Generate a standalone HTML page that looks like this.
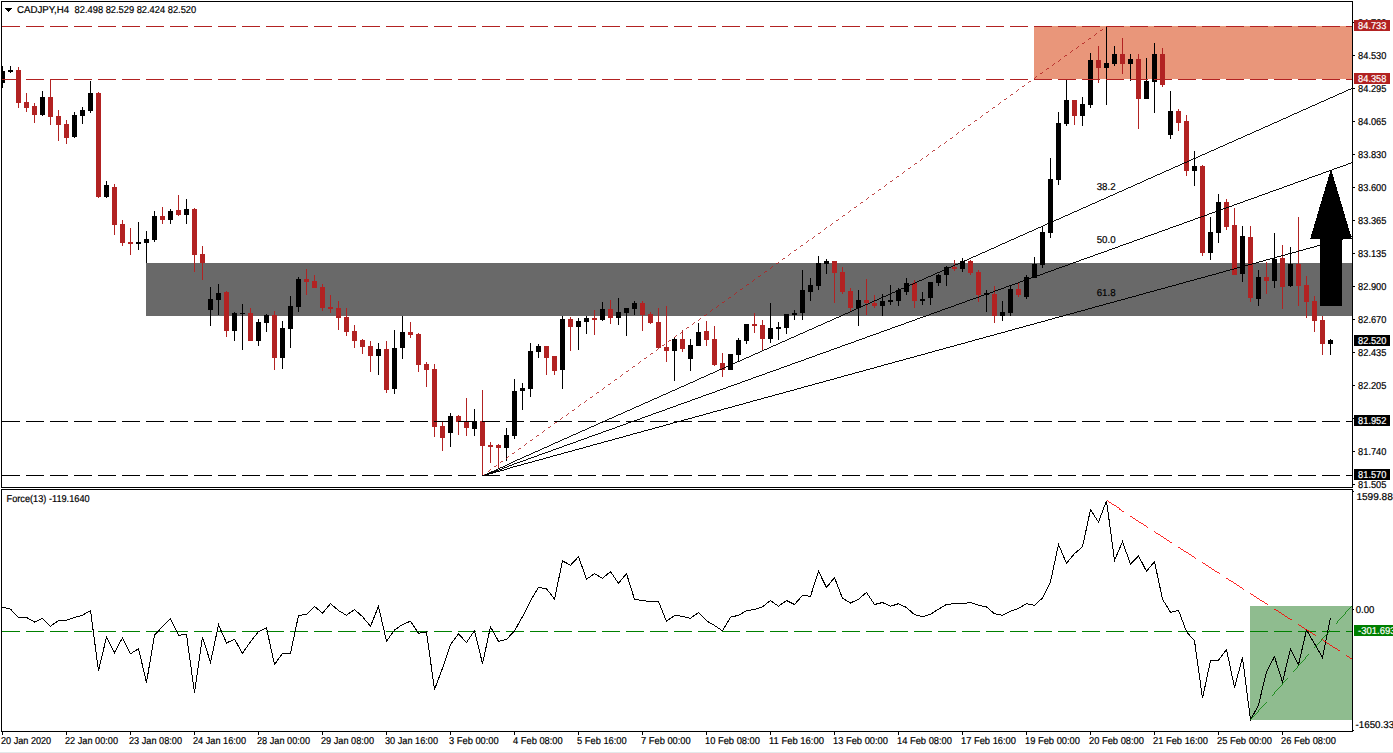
<!DOCTYPE html>
<html><head><meta charset="utf-8"><title>CADJPY,H4</title>
<style>
html,body{margin:0;padding:0;background:#fff;}
body{width:1393px;height:753px;overflow:hidden;}
svg{display:block;}
text{font-family:"Liberation Sans",sans-serif;font-size:10px;fill:#000;stroke:#000;stroke-width:0.2px;text-rendering:geometricPrecision;}
.w{fill:#fff;stroke:#fff;}
</style></head><body>
<svg width="1393" height="753" viewBox="0 0 1393 753">
<rect x="0" y="0" width="1393" height="753" fill="#fff"/>
<rect x="0" y="752" width="1393" height="1" fill="#e3e9ea"/>
<defs><clipPath id="cm"><rect x="2" y="2" width="1350" height="485"/></clipPath><clipPath id="ci"><rect x="2" y="490" width="1350" height="241"/></clipPath></defs>
<g shape-rendering="crispEdges">
<rect x="146" y="263" width="1206" height="53" fill="#696969"/>
<rect x="1034" y="26" width="318" height="53" fill="#e9967a"/>
<rect x="1250" y="606" width="102" height="114" fill="#8fbc8f"/>
</g>
<g shape-rendering="crispEdges" clip-path="url(#cm)">
<rect x="2" y="66" width="1" height="22" fill="#000"/><rect x="0" y="71" width="5" height="12" fill="#000"/>
<rect x="10" y="66" width="1" height="7" fill="#000"/><rect x="8" y="70" width="5" height="2" fill="#000"/>
<rect x="18" y="67" width="1" height="41" fill="#b22222"/><rect x="16" y="70" width="5" height="33" fill="#b22222"/>
<rect x="26" y="93" width="1" height="19" fill="#b22222"/><rect x="24" y="102" width="5" height="6" fill="#b22222"/>
<rect x="34" y="103" width="1" height="20" fill="#b22222"/><rect x="32" y="106" width="5" height="9" fill="#b22222"/>
<rect x="42" y="91" width="1" height="25" fill="#000"/><rect x="40" y="97" width="5" height="18" fill="#000"/>
<rect x="50" y="79" width="1" height="46" fill="#b22222"/><rect x="48" y="97" width="5" height="20" fill="#b22222"/>
<rect x="58" y="110" width="1" height="31" fill="#b22222"/><rect x="56" y="116" width="5" height="9" fill="#b22222"/>
<rect x="66" y="120" width="1" height="24" fill="#b22222"/><rect x="64" y="124" width="5" height="14" fill="#b22222"/>
<rect x="74" y="112" width="1" height="26" fill="#000"/><rect x="72" y="115" width="5" height="22" fill="#000"/>
<rect x="82" y="107" width="1" height="17" fill="#000"/><rect x="80" y="110" width="5" height="6" fill="#000"/>
<rect x="90" y="81" width="1" height="32" fill="#000"/><rect x="88" y="93" width="5" height="18" fill="#000"/>
<rect x="98" y="92" width="1" height="106" fill="#b22222"/><rect x="96" y="93" width="5" height="104" fill="#b22222"/>
<rect x="106" y="181" width="1" height="17" fill="#000"/><rect x="104" y="185" width="5" height="12" fill="#000"/>
<rect x="114" y="184" width="1" height="51" fill="#b22222"/><rect x="112" y="187" width="5" height="38" fill="#b22222"/>
<rect x="122" y="220" width="1" height="26" fill="#b22222"/><rect x="120" y="224" width="5" height="19" fill="#b22222"/>
<rect x="130" y="228" width="1" height="27" fill="#b22222"/><rect x="128" y="242" width="5" height="2" fill="#b22222"/>
<rect x="138" y="222" width="1" height="28" fill="#000"/><rect x="136" y="242" width="5" height="2" fill="#000"/>
<rect x="146" y="231" width="1" height="32" fill="#000"/><rect x="144" y="239" width="5" height="4" fill="#000"/>
<rect x="154" y="211" width="1" height="31" fill="#000"/><rect x="152" y="216" width="5" height="24" fill="#000"/>
<rect x="162" y="207" width="1" height="17" fill="#b22222"/><rect x="160" y="216" width="5" height="4" fill="#b22222"/>
<rect x="170" y="209" width="1" height="15" fill="#000"/><rect x="168" y="211" width="5" height="9" fill="#000"/>
<rect x="178" y="195" width="1" height="21" fill="#b22222"/><rect x="176" y="210" width="5" height="5" fill="#b22222"/>
<rect x="186" y="199" width="1" height="25" fill="#000"/><rect x="184" y="209" width="5" height="6" fill="#000"/>
<rect x="194" y="208" width="1" height="64" fill="#b22222"/><rect x="192" y="209" width="5" height="46" fill="#b22222"/>
<rect x="202" y="246" width="1" height="34" fill="#b22222"/><rect x="200" y="254" width="5" height="9" fill="#b22222"/>
<rect x="210" y="287" width="1" height="39" fill="#000"/><rect x="208" y="299" width="5" height="11" fill="#000"/>
<rect x="218" y="284" width="1" height="31" fill="#000"/><rect x="216" y="293" width="5" height="7" fill="#000"/>
<rect x="226" y="291" width="1" height="46" fill="#b22222"/><rect x="224" y="292" width="5" height="39" fill="#b22222"/>
<rect x="234" y="312" width="1" height="29" fill="#000"/><rect x="232" y="313" width="5" height="18" fill="#000"/>
<rect x="242" y="304" width="1" height="46" fill="#000"/><rect x="240" y="313" width="5" height="1" fill="#000"/>
<rect x="250" y="308" width="1" height="33" fill="#b22222"/><rect x="248" y="313" width="5" height="28" fill="#b22222"/>
<rect x="258" y="319" width="1" height="27" fill="#000"/><rect x="256" y="322" width="5" height="19" fill="#000"/>
<rect x="266" y="314" width="1" height="18" fill="#000"/><rect x="264" y="315" width="5" height="8" fill="#000"/>
<rect x="274" y="311" width="1" height="59" fill="#b22222"/><rect x="272" y="315" width="5" height="43" fill="#b22222"/>
<rect x="282" y="321" width="1" height="48" fill="#000"/><rect x="280" y="328" width="5" height="30" fill="#000"/>
<rect x="290" y="296" width="1" height="52" fill="#000"/><rect x="288" y="306" width="5" height="23" fill="#000"/>
<rect x="298" y="277" width="1" height="35" fill="#000"/><rect x="296" y="279" width="5" height="28" fill="#000"/>
<rect x="306" y="269" width="1" height="26" fill="#b22222"/><rect x="304" y="279" width="5" height="3" fill="#b22222"/>
<rect x="314" y="275" width="1" height="13" fill="#b22222"/><rect x="312" y="281" width="5" height="7" fill="#b22222"/>
<rect x="322" y="284" width="1" height="27" fill="#b22222"/><rect x="320" y="287" width="5" height="21" fill="#b22222"/>
<rect x="330" y="295" width="1" height="18" fill="#b22222"/><rect x="328" y="307" width="5" height="2" fill="#b22222"/>
<rect x="338" y="301" width="1" height="29" fill="#b22222"/><rect x="336" y="308" width="5" height="10" fill="#b22222"/>
<rect x="346" y="308" width="1" height="28" fill="#b22222"/><rect x="344" y="317" width="5" height="15" fill="#b22222"/>
<rect x="354" y="325" width="1" height="23" fill="#b22222"/><rect x="352" y="331" width="5" height="10" fill="#b22222"/>
<rect x="362" y="339" width="1" height="15" fill="#b22222"/><rect x="360" y="340" width="5" height="7" fill="#b22222"/>
<rect x="370" y="341" width="1" height="31" fill="#b22222"/><rect x="368" y="346" width="5" height="10" fill="#b22222"/>
<rect x="378" y="343" width="1" height="32" fill="#000"/><rect x="376" y="349" width="5" height="7" fill="#000"/>
<rect x="386" y="341" width="1" height="52" fill="#b22222"/><rect x="384" y="349" width="5" height="41" fill="#b22222"/>
<rect x="394" y="330" width="1" height="64" fill="#000"/><rect x="392" y="348" width="5" height="41" fill="#000"/>
<rect x="402" y="316" width="1" height="43" fill="#000"/><rect x="400" y="332" width="5" height="16" fill="#000"/>
<rect x="410" y="322" width="1" height="16" fill="#b22222"/><rect x="408" y="332" width="5" height="3" fill="#b22222"/>
<rect x="418" y="333" width="1" height="39" fill="#b22222"/><rect x="416" y="334" width="5" height="31" fill="#b22222"/>
<rect x="426" y="362" width="1" height="25" fill="#b22222"/><rect x="424" y="364" width="5" height="6" fill="#b22222"/>
<rect x="434" y="364" width="1" height="73" fill="#b22222"/><rect x="432" y="369" width="5" height="58" fill="#b22222"/>
<rect x="442" y="422" width="1" height="29" fill="#b22222"/><rect x="440" y="426" width="5" height="12" fill="#b22222"/>
<rect x="450" y="413" width="1" height="34" fill="#000"/><rect x="448" y="416" width="5" height="17" fill="#000"/>
<rect x="458" y="415" width="1" height="20" fill="#b22222"/><rect x="456" y="416" width="5" height="6" fill="#b22222"/>
<rect x="466" y="398" width="1" height="38" fill="#b22222"/><rect x="464" y="422" width="5" height="6" fill="#b22222"/>
<rect x="474" y="409" width="1" height="27" fill="#000"/><rect x="472" y="421" width="5" height="8" fill="#000"/>
<rect x="482" y="390" width="1" height="86" fill="#b22222"/><rect x="480" y="421" width="5" height="25" fill="#b22222"/>
<rect x="490" y="442" width="1" height="21" fill="#b22222"/><rect x="488" y="445" width="5" height="2" fill="#b22222"/>
<rect x="498" y="444" width="1" height="24" fill="#b22222"/><rect x="496" y="445" width="5" height="3" fill="#b22222"/>
<rect x="506" y="428" width="1" height="33" fill="#000"/><rect x="504" y="435" width="5" height="13" fill="#000"/>
<rect x="514" y="379" width="1" height="60" fill="#000"/><rect x="512" y="391" width="5" height="45" fill="#000"/>
<rect x="522" y="383" width="1" height="27" fill="#000"/><rect x="520" y="388" width="5" height="3" fill="#000"/>
<rect x="530" y="343" width="1" height="54" fill="#000"/><rect x="528" y="351" width="5" height="38" fill="#000"/>
<rect x="538" y="344" width="1" height="14" fill="#000"/><rect x="536" y="346" width="5" height="6" fill="#000"/>
<rect x="546" y="346" width="1" height="29" fill="#b22222"/><rect x="544" y="346" width="5" height="12" fill="#b22222"/>
<rect x="554" y="356" width="1" height="19" fill="#b22222"/><rect x="552" y="356" width="5" height="15" fill="#b22222"/>
<rect x="562" y="316" width="1" height="73" fill="#000"/><rect x="560" y="319" width="5" height="51" fill="#000"/>
<rect x="570" y="317" width="1" height="34" fill="#b22222"/><rect x="568" y="319" width="5" height="8" fill="#b22222"/>
<rect x="578" y="318" width="1" height="32" fill="#000"/><rect x="576" y="321" width="5" height="6" fill="#000"/>
<rect x="586" y="316" width="1" height="18" fill="#000"/><rect x="584" y="318" width="5" height="4" fill="#000"/>
<rect x="594" y="310" width="1" height="25" fill="#b22222"/><rect x="592" y="318" width="5" height="2" fill="#b22222"/>
<rect x="602" y="302" width="1" height="19" fill="#000"/><rect x="600" y="309" width="5" height="11" fill="#000"/>
<rect x="610" y="300" width="1" height="24" fill="#b22222"/><rect x="608" y="309" width="5" height="9" fill="#b22222"/>
<rect x="618" y="298" width="1" height="27" fill="#000"/><rect x="616" y="312" width="5" height="6" fill="#000"/>
<rect x="626" y="308" width="1" height="28" fill="#000"/><rect x="624" y="308" width="5" height="5" fill="#000"/>
<rect x="634" y="301" width="1" height="14" fill="#000"/><rect x="632" y="303" width="5" height="6" fill="#000"/>
<rect x="642" y="301" width="1" height="30" fill="#b22222"/><rect x="640" y="303" width="5" height="12" fill="#b22222"/>
<rect x="650" y="312" width="1" height="12" fill="#b22222"/><rect x="648" y="314" width="5" height="9" fill="#b22222"/>
<rect x="658" y="308" width="1" height="40" fill="#b22222"/><rect x="656" y="322" width="5" height="26" fill="#b22222"/>
<rect x="666" y="306" width="1" height="56" fill="#b22222"/><rect x="664" y="347" width="5" height="4" fill="#b22222"/>
<rect x="674" y="337" width="1" height="44" fill="#000"/><rect x="672" y="339" width="5" height="12" fill="#000"/>
<rect x="682" y="330" width="1" height="22" fill="#b22222"/><rect x="680" y="339" width="5" height="10" fill="#b22222"/>
<rect x="690" y="339" width="1" height="32" fill="#000"/><rect x="688" y="345" width="5" height="14" fill="#000"/>
<rect x="698" y="323" width="1" height="23" fill="#000"/><rect x="696" y="332" width="5" height="14" fill="#000"/>
<rect x="706" y="321" width="1" height="25" fill="#b22222"/><rect x="704" y="331" width="5" height="9" fill="#b22222"/>
<rect x="714" y="326" width="1" height="40" fill="#b22222"/><rect x="712" y="339" width="5" height="26" fill="#b22222"/>
<rect x="722" y="353" width="1" height="24" fill="#b22222"/><rect x="720" y="363" width="5" height="7" fill="#b22222"/>
<rect x="730" y="354" width="1" height="16" fill="#000"/><rect x="728" y="354" width="5" height="16" fill="#000"/>
<rect x="738" y="338" width="1" height="23" fill="#000"/><rect x="736" y="340" width="5" height="15" fill="#000"/>
<rect x="746" y="324" width="1" height="20" fill="#000"/><rect x="744" y="324" width="5" height="17" fill="#000"/>
<rect x="754" y="313" width="1" height="20" fill="#b22222"/><rect x="752" y="324" width="5" height="2" fill="#b22222"/>
<rect x="762" y="320" width="1" height="30" fill="#b22222"/><rect x="760" y="325" width="5" height="14" fill="#b22222"/>
<rect x="770" y="303" width="1" height="40" fill="#000"/><rect x="768" y="328" width="5" height="11" fill="#000"/>
<rect x="778" y="322" width="1" height="18" fill="#000"/><rect x="776" y="327" width="5" height="2" fill="#000"/>
<rect x="786" y="314" width="1" height="20" fill="#000"/><rect x="784" y="314" width="5" height="14" fill="#000"/>
<rect x="794" y="310" width="1" height="10" fill="#000"/><rect x="792" y="313" width="5" height="2" fill="#000"/>
<rect x="802" y="270" width="1" height="50" fill="#000"/><rect x="800" y="290" width="5" height="23" fill="#000"/>
<rect x="810" y="278" width="1" height="23" fill="#000"/><rect x="808" y="285" width="5" height="7" fill="#000"/>
<rect x="818" y="256" width="1" height="34" fill="#000"/><rect x="816" y="263" width="5" height="23" fill="#000"/>
<rect x="826" y="259" width="1" height="15" fill="#000"/><rect x="824" y="261" width="5" height="3" fill="#000"/>
<rect x="834" y="261" width="1" height="42" fill="#b22222"/><rect x="832" y="261" width="5" height="12" fill="#b22222"/>
<rect x="842" y="267" width="1" height="27" fill="#b22222"/><rect x="840" y="272" width="5" height="20" fill="#b22222"/>
<rect x="850" y="288" width="1" height="23" fill="#b22222"/><rect x="848" y="291" width="5" height="17" fill="#b22222"/>
<rect x="858" y="290" width="1" height="36" fill="#000"/><rect x="856" y="300" width="5" height="8" fill="#000"/>
<rect x="866" y="279" width="1" height="36" fill="#b22222"/><rect x="864" y="300" width="5" height="3" fill="#b22222"/>
<rect x="874" y="295" width="1" height="13" fill="#b22222"/><rect x="872" y="303" width="5" height="3" fill="#b22222"/>
<rect x="882" y="294" width="1" height="22" fill="#000"/><rect x="880" y="301" width="5" height="5" fill="#000"/>
<rect x="890" y="285" width="1" height="20" fill="#000"/><rect x="888" y="300" width="5" height="2" fill="#000"/>
<rect x="898" y="288" width="1" height="18" fill="#000"/><rect x="896" y="290" width="5" height="11" fill="#000"/>
<rect x="906" y="278" width="1" height="17" fill="#000"/><rect x="904" y="283" width="5" height="9" fill="#000"/>
<rect x="914" y="280" width="1" height="28" fill="#b22222"/><rect x="912" y="283" width="5" height="18" fill="#b22222"/>
<rect x="922" y="292" width="1" height="13" fill="#000"/><rect x="920" y="299" width="5" height="2" fill="#000"/>
<rect x="930" y="282" width="1" height="23" fill="#000"/><rect x="928" y="282" width="5" height="16" fill="#000"/>
<rect x="938" y="274" width="1" height="12" fill="#000"/><rect x="936" y="275" width="5" height="8" fill="#000"/>
<rect x="946" y="266" width="1" height="20" fill="#000"/><rect x="944" y="267" width="5" height="8" fill="#000"/>
<rect x="954" y="260" width="1" height="11" fill="#b22222"/><rect x="952" y="267" width="5" height="2" fill="#b22222"/>
<rect x="962" y="258" width="1" height="14" fill="#000"/><rect x="960" y="261" width="5" height="8" fill="#000"/>
<rect x="970" y="260" width="1" height="15" fill="#b22222"/><rect x="968" y="261" width="5" height="12" fill="#b22222"/>
<rect x="978" y="270" width="1" height="32" fill="#b22222"/><rect x="976" y="272" width="5" height="23" fill="#b22222"/>
<rect x="986" y="290" width="1" height="22" fill="#000"/><rect x="984" y="293" width="5" height="2" fill="#000"/>
<rect x="994" y="286" width="1" height="37" fill="#b22222"/><rect x="992" y="294" width="5" height="22" fill="#b22222"/>
<rect x="1002" y="301" width="1" height="20" fill="#000"/><rect x="1000" y="312" width="5" height="4" fill="#000"/>
<rect x="1010" y="285" width="1" height="31" fill="#000"/><rect x="1008" y="289" width="5" height="24" fill="#000"/>
<rect x="1018" y="283" width="1" height="14" fill="#b22222"/><rect x="1016" y="289" width="5" height="6" fill="#b22222"/>
<rect x="1026" y="275" width="1" height="24" fill="#000"/><rect x="1024" y="277" width="5" height="20" fill="#000"/>
<rect x="1034" y="257" width="1" height="21" fill="#000"/><rect x="1032" y="264" width="5" height="14" fill="#000"/>
<rect x="1042" y="226" width="1" height="42" fill="#000"/><rect x="1040" y="232" width="5" height="33" fill="#000"/>
<rect x="1050" y="158" width="1" height="80" fill="#000"/><rect x="1048" y="179" width="5" height="54" fill="#000"/>
<rect x="1058" y="112" width="1" height="73" fill="#000"/><rect x="1056" y="123" width="5" height="57" fill="#000"/>
<rect x="1066" y="80" width="1" height="46" fill="#000"/><rect x="1064" y="100" width="5" height="24" fill="#000"/>
<rect x="1074" y="100" width="1" height="25" fill="#b22222"/><rect x="1072" y="100" width="5" height="16" fill="#b22222"/>
<rect x="1082" y="97" width="1" height="29" fill="#000"/><rect x="1080" y="104" width="5" height="12" fill="#000"/>
<rect x="1090" y="53" width="1" height="55" fill="#000"/><rect x="1088" y="60" width="5" height="45" fill="#000"/>
<rect x="1098" y="46" width="1" height="37" fill="#b22222"/><rect x="1096" y="60" width="5" height="8" fill="#b22222"/>
<rect x="1106" y="26" width="1" height="79" fill="#000"/><rect x="1104" y="63" width="5" height="5" fill="#000"/>
<rect x="1114" y="46" width="1" height="20" fill="#000"/><rect x="1112" y="54" width="5" height="10" fill="#000"/>
<rect x="1122" y="38" width="1" height="36" fill="#b22222"/><rect x="1120" y="54" width="5" height="10" fill="#b22222"/>
<rect x="1130" y="54" width="1" height="27" fill="#000"/><rect x="1128" y="59" width="5" height="5" fill="#000"/>
<rect x="1138" y="54" width="1" height="75" fill="#b22222"/><rect x="1136" y="59" width="5" height="40" fill="#b22222"/>
<rect x="1146" y="58" width="1" height="41" fill="#000"/><rect x="1144" y="81" width="5" height="18" fill="#000"/>
<rect x="1154" y="43" width="1" height="70" fill="#000"/><rect x="1152" y="54" width="5" height="28" fill="#000"/>
<rect x="1162" y="48" width="1" height="39" fill="#b22222"/><rect x="1160" y="54" width="5" height="31" fill="#b22222"/>
<rect x="1170" y="91" width="1" height="48" fill="#000"/><rect x="1168" y="111" width="5" height="24" fill="#000"/>
<rect x="1178" y="109" width="1" height="22" fill="#b22222"/><rect x="1176" y="111" width="5" height="12" fill="#b22222"/>
<rect x="1186" y="115" width="1" height="61" fill="#b22222"/><rect x="1184" y="121" width="5" height="50" fill="#b22222"/>
<rect x="1194" y="151" width="1" height="35" fill="#000"/><rect x="1192" y="166" width="5" height="5" fill="#000"/>
<rect x="1202" y="165" width="1" height="91" fill="#b22222"/><rect x="1200" y="166" width="5" height="87" fill="#b22222"/>
<rect x="1210" y="217" width="1" height="43" fill="#000"/><rect x="1208" y="232" width="5" height="21" fill="#000"/>
<rect x="1218" y="194" width="1" height="49" fill="#000"/><rect x="1216" y="202" width="5" height="31" fill="#000"/>
<rect x="1226" y="199" width="1" height="31" fill="#b22222"/><rect x="1224" y="202" width="5" height="25" fill="#b22222"/>
<rect x="1234" y="208" width="1" height="67" fill="#b22222"/><rect x="1232" y="225" width="5" height="50" fill="#b22222"/>
<rect x="1242" y="226" width="1" height="56" fill="#000"/><rect x="1240" y="236" width="5" height="38" fill="#000"/>
<rect x="1250" y="226" width="1" height="76" fill="#b22222"/><rect x="1248" y="237" width="5" height="61" fill="#b22222"/>
<rect x="1258" y="270" width="1" height="36" fill="#000"/><rect x="1256" y="277" width="5" height="22" fill="#000"/>
<rect x="1266" y="262" width="1" height="32" fill="#b22222"/><rect x="1264" y="277" width="5" height="4" fill="#b22222"/>
<rect x="1274" y="233" width="1" height="55" fill="#000"/><rect x="1272" y="259" width="5" height="22" fill="#000"/>
<rect x="1282" y="245" width="1" height="64" fill="#b22222"/><rect x="1280" y="258" width="5" height="29" fill="#b22222"/>
<rect x="1290" y="247" width="1" height="40" fill="#000"/><rect x="1288" y="264" width="5" height="22" fill="#000"/>
<rect x="1298" y="217" width="1" height="89" fill="#b22222"/><rect x="1296" y="264" width="5" height="22" fill="#b22222"/>
<rect x="1306" y="276" width="1" height="42" fill="#b22222"/><rect x="1304" y="285" width="5" height="17" fill="#b22222"/>
<rect x="1314" y="296" width="1" height="36" fill="#b22222"/><rect x="1312" y="301" width="5" height="20" fill="#b22222"/>
<rect x="1322" y="316" width="1" height="39" fill="#b22222"/><rect x="1320" y="320" width="5" height="24" fill="#b22222"/>
<rect x="1330" y="339" width="1" height="16" fill="#000"/><rect x="1328" y="340" width="5" height="4" fill="#000"/>
</g>
<g shape-rendering="crispEdges" clip-path="url(#cm)" fill="none" stroke-width="1">
<line x1="482.5" y1="475.5" x2="1352.5" y2="88.18" stroke="#000" stroke-width="0.932"/>
<line x1="482.5" y1="475.5" x2="1352.5" y2="162.50" stroke="#000" stroke-width="0.960"/>
<line x1="482.5" y1="475.5" x2="1352.5" y2="236.36" stroke="#000" stroke-width="0.984"/>
<line x1="482.5" y1="475.5" x2="1106.5" y2="26.5" stroke="#b22222" stroke-width="0.83" stroke-dashoffset="1" stroke-dasharray="3.70 3.70"/>
<line x1="2" y1="26.5" x2="1352" y2="26.5" stroke="#b22222" stroke-dasharray="18 6"/>
<line x1="2" y1="79.5" x2="1352" y2="79.5" stroke="#b22222" stroke-dasharray="18 6"/>
<line x1="2" y1="421.5" x2="1352" y2="421.5" stroke="#000" stroke-dasharray="18 6"/>
<line x1="2" y1="475.5" x2="1352" y2="475.5" stroke="#000" stroke-dasharray="18 6"/>
</g>
<g shape-rendering="crispEdges" fill="#000"><rect x="1330" y="170" width="2" height="4"/><rect x="1329" y="174" width="4" height="3"/><rect x="1328" y="177" width="6" height="4"/><rect x="1327" y="181" width="8" height="3"/><rect x="1326" y="184" width="10" height="3"/><rect x="1325" y="187" width="12" height="4"/><rect x="1324" y="191" width="14" height="3"/><rect x="1323" y="194" width="16" height="3"/><rect x="1322" y="197" width="18" height="4"/><rect x="1321" y="201" width="20" height="3"/><rect x="1320" y="204" width="22" height="3"/><rect x="1319" y="207" width="24" height="4"/><rect x="1318" y="211" width="26" height="3"/><rect x="1317" y="214" width="28" height="4"/><rect x="1316" y="218" width="30" height="3"/><rect x="1315" y="221" width="32" height="3"/><rect x="1314" y="224" width="34" height="4"/><rect x="1313" y="228" width="36" height="3"/><rect x="1312" y="231" width="38" height="3"/><rect x="1311" y="234" width="40" height="4"/><rect x="1310" y="238" width="42" height="1"/><rect x="1320" y="239" width="22" height="67"/></g>
<text x="1096.7" y="190" textLength="18.9" lengthAdjust="spacingAndGlyphs">38.2</text>
<text x="1096.7" y="243" textLength="18.9" lengthAdjust="spacingAndGlyphs">50.0</text>
<text x="1096.7" y="296" textLength="18.9" lengthAdjust="spacingAndGlyphs">61.8</text>
<g shape-rendering="crispEdges" clip-path="url(#ci)" fill="none" stroke-width="1">
<line x1="2" y1="631.5" x2="1352" y2="631.5" stroke="#008000" stroke-dasharray="18 6"/>
<polyline points="2.5,607.2 10.5,609.2 18.5,617.2 26.5,617.5 34.5,622.0 42.5,618.3 50.5,626.2 58.5,620.5 66.5,620.3 74.5,617.5 82.5,615.3 90.5,610.5 98.5,670.8 106.5,637.0 114.5,652.5 122.5,637.8 130.5,653.8 138.5,648.7 146.5,682.5 154.5,635.0 162.5,626.7 170.5,618.7 178.5,635.3 186.5,634.5 194.5,692.8 202.5,637.0 210.5,662.5 218.5,624.7 226.5,643.0 234.5,639.2 242.5,653.3 250.5,641.7 258.5,631.7 266.5,628.0 274.5,664.5 282.5,653.3 290.5,653.3 298.5,615.5 306.5,614.5 314.5,606.3 322.5,613.3 330.5,603.7 338.5,610.5 346.5,615.3 354.5,609.5 362.5,616.7 370.5,626.3 378.5,606.3 386.5,641.3 394.5,630.0 402.5,624.5 410.5,621.2 418.5,633.3 426.5,632.0 434.5,689.5 442.5,668.3 450.5,644.7 458.5,633.8 466.5,642.5 474.5,630.5 482.5,663.7 490.5,626.7 498.5,641.3 506.5,639.5 514.5,630.8 522.5,616.7 530.5,600.8 538.5,587.5 546.5,588.7 554.5,599.2 562.5,560.8 570.5,565.3 578.5,556.7 586.5,579.2 594.5,573.7 602.5,578.3 610.5,571.7 618.5,583.3 626.5,573.7 634.5,599.2 642.5,600.5 650.5,601.7 658.5,601.7 666.5,621.3 674.5,615.5 682.5,616.3 690.5,618.3 698.5,612.5 706.5,620.8 714.5,625.5 722.5,630.8 730.5,617.2 738.5,615.3 746.5,610.8 754.5,609.5 762.5,606.7 770.5,600.5 778.5,606.3 786.5,600.5 794.5,604.5 802.5,595.5 810.5,596.3 818.5,571.3 826.5,587.5 834.5,577.5 842.5,598.3 850.5,603.0 858.5,599.2 866.5,592.5 874.5,604.5 882.5,602.5 890.5,606.3 898.5,603.7 906.5,607.5 914.5,614.7 922.5,616.7 930.5,614.2 938.5,609.2 946.5,604.5 954.5,603.7 962.5,603.7 970.5,602.5 978.5,605.3 986.5,607.0 994.5,613.7 1002.5,615.3 1010.5,611.3 1018.5,608.3 1026.5,603.7 1034.5,605.3 1042.5,598.0 1050.5,581.7 1058.5,544.5 1066.5,563.3 1074.5,553.7 1082.5,546.7 1090.5,509.7 1098.5,522.0 1106.5,500.8 1114.5,560.3 1122.5,541.7 1130.5,564.2 1138.5,555.8 1146.5,571.3 1154.5,561.7 1162.5,599.2 1170.5,612.3 1178.5,610.3 1186.5,631.7 1194.5,640.8 1202.5,698.3 1210.5,660.8 1218.5,660.3 1226.5,649.5 1234.5,687.5 1242.5,657.5 1250.5,720.0 1258.5,705.0 1266.5,671.7 1274.5,656.7 1282.5,682.0 1290.5,648.7 1298.5,664.7 1306.5,630.0 1314.5,643.7 1322.5,657.5 1330.5,618.0" stroke="#000" stroke-linejoin="miter"/>
<line x1="1106.5" y1="500.8" x2="1352.5" y2="659.3" stroke="#ff0000" stroke-width="0.86" stroke-dasharray="21.41 7.14"/>
<line x1="1250.5" y1="720" x2="1351.7" y2="606" stroke="#008000" stroke-width="0.77" stroke-dasharray="24.07 8.02"/>
</g>
<g shape-rendering="crispEdges" fill="#000">
<rect x="1" y="1" width="1352" height="1"/><rect x="1" y="487" width="1352" height="1"/><rect x="1" y="1" width="1" height="487"/>
<rect x="1" y="489" width="1352" height="1"/><rect x="1" y="731" width="1352" height="1"/><rect x="1" y="489" width="1" height="243"/>
<rect x="1352" y="1" width="1" height="487"/><rect x="1352" y="489" width="1" height="243"/>
<rect x="1353" y="22" width="2" height="1"/><rect x="1353" y="55" width="2" height="1"/><rect x="1353" y="88" width="2" height="1"/><rect x="1353" y="121" width="2" height="1"/><rect x="1353" y="154" width="2" height="1"/><rect x="1353" y="187" width="2" height="1"/><rect x="1353" y="220" width="2" height="1"/><rect x="1353" y="253" width="2" height="1"/><rect x="1353" y="286" width="2" height="1"/><rect x="1353" y="319" width="2" height="1"/><rect x="1353" y="352" width="2" height="1"/><rect x="1353" y="385" width="2" height="1"/><rect x="1353" y="418" width="2" height="1"/><rect x="1353" y="451" width="2" height="1"/><rect x="1353" y="484" width="2" height="1"/>
<rect x="2" y="732" width="1" height="3"/><rect x="66" y="732" width="1" height="3"/><rect x="130" y="732" width="1" height="3"/><rect x="194" y="732" width="1" height="3"/><rect x="258" y="732" width="1" height="3"/><rect x="322" y="732" width="1" height="3"/><rect x="386" y="732" width="1" height="3"/><rect x="450" y="732" width="1" height="3"/><rect x="514" y="732" width="1" height="3"/><rect x="578" y="732" width="1" height="3"/><rect x="642" y="732" width="1" height="3"/><rect x="706" y="732" width="1" height="3"/><rect x="770" y="732" width="1" height="3"/><rect x="834" y="732" width="1" height="3"/><rect x="898" y="732" width="1" height="3"/><rect x="962" y="732" width="1" height="3"/><rect x="1026" y="732" width="1" height="3"/><rect x="1090" y="732" width="1" height="3"/><rect x="1154" y="732" width="1" height="3"/><rect x="1218" y="732" width="1" height="3"/><rect x="1282" y="732" width="1" height="3"/>
<rect x="1353" y="491" width="1" height="1"/><rect x="1353" y="609" width="1" height="1"/><rect x="1353" y="730" width="1" height="1"/>
</g>
<text x="1358.1" y="26" textLength="28.3" lengthAdjust="spacingAndGlyphs">84.760</text><text x="1358.1" y="59" textLength="28.3" lengthAdjust="spacingAndGlyphs">84.530</text><text x="1358.1" y="92" textLength="28.3" lengthAdjust="spacingAndGlyphs">84.295</text><text x="1358.1" y="125" textLength="28.3" lengthAdjust="spacingAndGlyphs">84.065</text><text x="1358.1" y="158" textLength="28.3" lengthAdjust="spacingAndGlyphs">83.830</text><text x="1358.1" y="191" textLength="28.3" lengthAdjust="spacingAndGlyphs">83.600</text><text x="1358.1" y="224" textLength="28.3" lengthAdjust="spacingAndGlyphs">83.365</text><text x="1358.1" y="257" textLength="28.3" lengthAdjust="spacingAndGlyphs">83.135</text><text x="1358.1" y="290" textLength="28.3" lengthAdjust="spacingAndGlyphs">82.900</text><text x="1358.1" y="323" textLength="28.3" lengthAdjust="spacingAndGlyphs">82.670</text><text x="1358.1" y="356" textLength="28.3" lengthAdjust="spacingAndGlyphs">82.435</text><text x="1358.1" y="389" textLength="28.3" lengthAdjust="spacingAndGlyphs">82.205</text><text x="1358.1" y="422" textLength="28.3" lengthAdjust="spacingAndGlyphs">81.970</text><text x="1358.1" y="455" textLength="28.3" lengthAdjust="spacingAndGlyphs">81.740</text><text x="1358.1" y="488" textLength="28.3" lengthAdjust="spacingAndGlyphs">81.505</text>
<text x="1356.4" y="500" textLength="42" lengthAdjust="spacingAndGlyphs">1599.884</text><text x="1355.8" y="613" textLength="18.6" lengthAdjust="spacingAndGlyphs">0.00</text><text x="1355.6" y="728" textLength="38.5" lengthAdjust="spacingAndGlyphs">-1650.33</text>
<rect shape-rendering="crispEdges" x="1354" y="20" width="36" height="11" fill="#b22222"/><text x="1358.1" y="29" textLength="28.3" lengthAdjust="spacingAndGlyphs" class="w">84.733</text>
<rect shape-rendering="crispEdges" x="1354" y="73" width="36" height="11" fill="#b22222"/><text x="1358.1" y="82" textLength="28.3" lengthAdjust="spacingAndGlyphs" class="w">84.358</text>
<rect shape-rendering="crispEdges" x="1354" y="335" width="36" height="11" fill="#000"/><text x="1358.1" y="344" textLength="28.3" lengthAdjust="spacingAndGlyphs" class="w">82.520</text>
<rect shape-rendering="crispEdges" x="1354" y="415" width="36" height="11" fill="#000"/><text x="1358.1" y="424" textLength="28.3" lengthAdjust="spacingAndGlyphs" class="w">81.952</text>
<rect shape-rendering="crispEdges" x="1354" y="469" width="36" height="11" fill="#000"/><text x="1358.1" y="478" textLength="28.3" lengthAdjust="spacingAndGlyphs" class="w">81.570</text>
<rect shape-rendering="crispEdges" x="1354" y="625" width="39" height="11" fill="#008000"/><text x="1358" y="634" textLength="37.5" lengthAdjust="spacingAndGlyphs" class="w">-301.693</text>
<polygon shape-rendering="crispEdges" points="5,8 12,8 8.5,12" fill="#000"/>
<text x="17.0" y="13" textLength="52.2" lengthAdjust="spacingAndGlyphs">CADJPY,H4</text><text x="74.6" y="13" textLength="121.6" lengthAdjust="spacingAndGlyphs">82.498 82.529 82.424 82.520</text>
<text x="6.6" y="502" textLength="83" lengthAdjust="spacingAndGlyphs">Force(13) -119.1640</text>
<text x="1.0" y="744" textLength="50.2" lengthAdjust="spacingAndGlyphs">20 Jan 2020</text><text x="65.0" y="744" textLength="53.0" lengthAdjust="spacingAndGlyphs">22 Jan 00:00</text><text x="129.0" y="744" textLength="53.0" lengthAdjust="spacingAndGlyphs">23 Jan 08:00</text><text x="193.0" y="744" textLength="53.0" lengthAdjust="spacingAndGlyphs">24 Jan 16:00</text><text x="257.0" y="744" textLength="53.0" lengthAdjust="spacingAndGlyphs">28 Jan 00:00</text><text x="321.0" y="744" textLength="53.0" lengthAdjust="spacingAndGlyphs">29 Jan 08:00</text><text x="385.0" y="744" textLength="53.0" lengthAdjust="spacingAndGlyphs">30 Jan 16:00</text><text x="449.0" y="744" textLength="49.7" lengthAdjust="spacingAndGlyphs">3 Feb 00:00</text><text x="513.0" y="744" textLength="49.7" lengthAdjust="spacingAndGlyphs">4 Feb 08:00</text><text x="577.0" y="744" textLength="49.7" lengthAdjust="spacingAndGlyphs">5 Feb 16:00</text><text x="641.0" y="744" textLength="49.7" lengthAdjust="spacingAndGlyphs">7 Feb 00:00</text><text x="705.0" y="744" textLength="55.0" lengthAdjust="spacingAndGlyphs">10 Feb 08:00</text><text x="769.0" y="744" textLength="55.0" lengthAdjust="spacingAndGlyphs">11 Feb 16:00</text><text x="833.0" y="744" textLength="55.0" lengthAdjust="spacingAndGlyphs">13 Feb 00:00</text><text x="897.0" y="744" textLength="55.0" lengthAdjust="spacingAndGlyphs">14 Feb 08:00</text><text x="961.0" y="744" textLength="55.0" lengthAdjust="spacingAndGlyphs">17 Feb 16:00</text><text x="1025.0" y="744" textLength="55.0" lengthAdjust="spacingAndGlyphs">19 Feb 00:00</text><text x="1089.0" y="744" textLength="55.0" lengthAdjust="spacingAndGlyphs">20 Feb 08:00</text><text x="1153.0" y="744" textLength="55.0" lengthAdjust="spacingAndGlyphs">21 Feb 16:00</text><text x="1217.0" y="744" textLength="55.0" lengthAdjust="spacingAndGlyphs">25 Feb 00:00</text><text x="1281.0" y="744" textLength="55.0" lengthAdjust="spacingAndGlyphs">26 Feb 08:00</text>
</svg>
</body></html>
